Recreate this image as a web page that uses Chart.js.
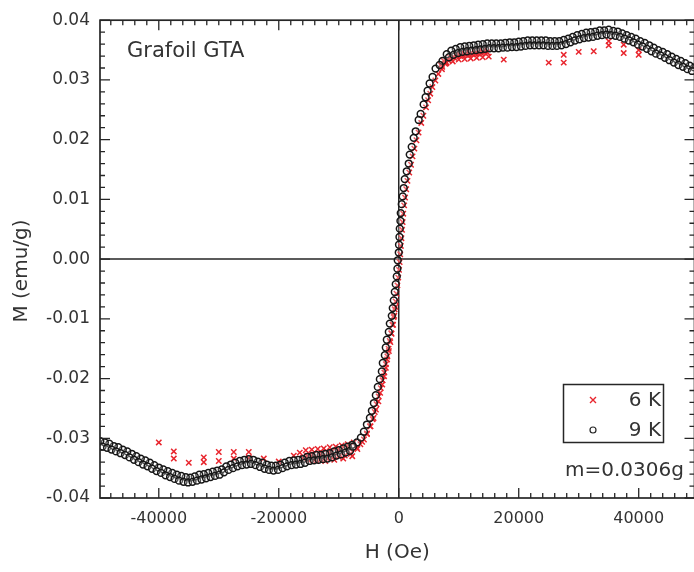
<!DOCTYPE html>
<html>
<head>
<meta charset="utf-8">
<script src="https://cdn.jsdelivr.net/npm/chart.js@4.4.1/dist/chart.umd.min.js"></script>
<style>
html,body{margin:0;padding:0;background:#fff;overflow:hidden;}
#wrap{width:700px;height:572px;}
</style>
</head>
<body>
<div id="wrap"><canvas id="c" width="700" height="572"></canvas></div>
<script>
// ---- texts ----
const xTitle = 'H (Oe)';
const yTitle = 'M (emu/g)';
const sampleLabel = 'Grafoil GTA';
const massLabel = 'm=0.0306g';
const seriesNames = ['6 K', '9 K'];

// ---- tick labels ----
const xTickValues = [-40000, -20000, 0, 20000, 40000];
const yTickValues = [-0.04, -0.03, -0.02, -0.01, 0, 0.01, 0.02, 0.03, 0.04];

// ---- 9 K, field sweep down (H in Oe, M in emu/g) ----
const h9Down = [49250,48500,47750,47000,46250,45500,44750,44000,43250,42500,41750,41000,40250,39500,38750,38000,37250,36500,35750,35000,34250,33500,32750,32000,31250,30500,29750,29000,28250,27500,26750,26000,25250,24500,23750,23000,22250,21500,20750,20000,19250,18500,17750,17000,16250,15500,14750,14000,13250,12500,11750,11000,10250,9500,8750,8000,7300,
6140,5150,4480,3650,2820,2160,1660,1000,660,330,170,40,-170,-330,-660,-1000,-1490,-1990,-2320,-2820,-3490,-4150,-4810,-5810,-6970,
-7750,-8500,-9250,-10000,-10750,-11500,-12250,-13000,-13750,-14500,-15250,-16000,-16750,-17500,-18250,-19000,-19750,-20500,-21250,-22000,-22750,-23500,-24250,-25000,-25750,-26500,-27250,-28000,-28750,-29500,-30250,-31000,-31750,-32500,-33250,-34000,-34750,-35500,-36250,-37000,-37750,-38500,-39250,-40000,-40750,-41500,-42250,-43000,-43750,-44500,-45250,-46000,-46750,-47500,-48250,-49000,-49750];
const m9Down = [0.0321,0.0324,0.0328,0.0332,0.0335,0.0339,0.0343,0.0347,0.0350,0.0354,0.0358,0.0362,0.0365,0.0369,0.0372,0.0375,0.0378,0.0381,0.0382,0.0384,0.0383,0.0383,0.0381,0.0380,0.0379,0.0377,0.0375,0.0372,0.0369,0.0367,0.0365,0.0365,0.0365,0.0366,0.0366,0.0366,0.0366,0.0366,0.0365,0.0364,0.0363,0.0363,0.0362,0.0361,0.0361,0.0361,0.0361,0.0360,0.0359,0.0358,0.0357,0.0356,0.0355,0.0352,0.0349,0.0343,0.0332,
0.0319,0.0294,0.0271,0.0243,0.0214,0.0188,0.0160,0.0134,0.0105,0.0077,0.0051,0.0024,-0.0002,-0.0029,-0.0055,-0.0082,-0.0108,-0.0135,-0.0161,-0.0188,-0.0214,-0.0241,-0.0266,-0.0289,-0.0307,
-0.0311,-0.0314,-0.0317,-0.0320,-0.0322,-0.0325,-0.0326,-0.0328,-0.0328,-0.0330,-0.0331,-0.0335,-0.0336,-0.0337,-0.0338,-0.0341,-0.0344,-0.0346,-0.0346,-0.0344,-0.0341,-0.0339,-0.0336,-0.0335,-0.0336,-0.0338,-0.0341,-0.0344,-0.0347,-0.0352,-0.0354,-0.0356,-0.0358,-0.0360,-0.0361,-0.0364,-0.0366,-0.0365,-0.0363,-0.0361,-0.0358,-0.0355,-0.0352,-0.0349,-0.0345,-0.0341,-0.0337,-0.0334,-0.0330,-0.0326,-0.0322,-0.0319,-0.0315,-0.0313,-0.0309,-0.0307,-0.0305];

// ---- 9 K, field sweep up ----
const h9Up = [-49375,-48625,-47875,-47125,-46375,-45625,-44875,-44125,-43375,-42625,-41875,-41125,-40375,-39625,-38875,-38125,-37375,-36625,-35875,-35125,-34375,-33625,-32875,-32125,-31375,-30625,-29875,-29125,-28375,-27625,-26875,-26125,-25375,-24625,-23875,-23125,-22375,-21625,-20875,-20125,-19375,-18625,-17875,-17125,-16375,-15625,-14875,-14125,-13375,-12625,-11875,-11125,-10375,-9625,-8875,-8125,
-7640,-6310,-5310,-4480,-3820,-3150,-2660,-2160,-1660,-1160,-830,-500,-220,0,120,280,500,830,1330,1830,2490,3320,4150,4810,5640,6810,
8375,9125,9875,10625,11375,12125,12875,13625,14375,15125,15875,16625,17375,18125,18875,19625,20375,21125,21875,22625,23375,24125,24875,25625,26375,27125,27875,28625,29375,30125,30875,31625,32375,33125,33875,34625,35375,36125,36875,37625,38375,39125,39875,40625,41375,42125,42875,43625,44375,45125,45875,46625,47375,48125,48875];
const m9Up = [-0.0314,-0.0316,-0.0319,-0.0322,-0.0325,-0.0328,-0.0332,-0.0336,-0.0340,-0.0344,-0.0347,-0.0351,-0.0355,-0.0358,-0.0362,-0.0365,-0.0368,-0.0371,-0.0373,-0.0374,-0.0373,-0.0371,-0.0369,-0.0367,-0.0365,-0.0363,-0.0361,-0.0357,-0.0353,-0.0350,-0.0347,-0.0345,-0.0344,-0.0343,-0.0345,-0.0348,-0.0351,-0.0353,-0.0354,-0.0353,-0.0350,-0.0347,-0.0345,-0.0344,-0.0343,-0.0341,-0.0338,-0.0337,-0.0336,-0.0335,-0.0334,-0.0332,-0.0329,-0.0327,-0.0324,-0.0321,
-0.0314,-0.0299,-0.0277,-0.0254,-0.0228,-0.0201,-0.0174,-0.0148,-0.0122,-0.0095,-0.0069,-0.0042,-0.0016,0.0011,0.0037,0.0064,0.0092,0.0119,0.0147,0.0175,0.0203,0.0233,0.0259,0.0282,0.0305,0.0325,
0.0338,0.0342,0.0345,0.0347,0.0348,0.0349,0.0350,0.0351,0.0352,0.0353,0.0353,0.0353,0.0354,0.0354,0.0355,0.0355,0.0356,0.0357,0.0358,0.0358,0.0358,0.0358,0.0357,0.0357,0.0357,0.0358,0.0360,0.0363,0.0366,0.0368,0.0370,0.0371,0.0372,0.0374,0.0375,0.0376,0.0375,0.0374,0.0372,0.0369,0.0366,0.0363,0.0359,0.0356,0.0352,0.0348,0.0344,0.0341,0.0337,0.0333,0.0329,0.0325,0.0322,0.0318,0.0315];

// ---- 6 K ----
const h6 = [-40000,-37500,-37500,-35000,-32500,-32500,-30000,-30000,-27500,-27500,-25000,-25000,-22500,-20000,-17500,
-16500,-16000,-15500,-15250,-15000,-14750,-14500,-14250,-14000,-13750,-13500,-13250,-13000,-12750,-12500,-12250,-12000,-11750,-11500,-11250,-11000,-10750,-10500,-10250,-10000,-9750,-9500,-9250,-9000,-8750,-8500,-8250,-8000,-7750,-7500,
-7000,-6400,-5800,-5300,-4800,-4350,-4000,-3700,-3350,-3000,-2700,-2400,-2150,-1900,-1700,-1500,-1250,-1050,-850,-680,-520,-380,-220,-80,50,150,250,350,450,550,650,750,900,1050,1250,1450,1750,2050,2300,2600,2950,3300,3750,4100,4550,4900,5250,5600,6100,6600,7200,7900,
-6900,-6100,-5300,-4700,-4200,-3800,-3400,-3100,-2750,-2450,-2150,-1950,-1650,-1400,-1200,-950,-750,-550,
7000,7250,7500,7750,8000,8250,8500,8750,9000,9250,9500,9750,10000,10250,10500,10750,11000,11250,11500,11750,12000,12250,12500,12750,13000,13250,13500,13750,14000,14250,14500,14750,15000,
17500,25000,27500,27500,30000,32500,35000,35000,37500,37500,40000,40000];
const m6 = [-0.0307,-0.0322,-0.0334,-0.0341,-0.0332,-0.0340,-0.0323,-0.0338,-0.0323,-0.0334,-0.0323,-0.0333,-0.0334,-0.0339,-0.0329,
-0.0324,-0.0333,-0.0320,-0.0329,-0.0337,-0.0328,-0.0319,-0.0327,-0.0336,-0.0338,-0.0318,-0.0326,-0.0335,-0.0325,-0.0317,-0.0338,-0.0334,-0.0324,-0.0315,-0.0323,-0.0333,-0.0336,-0.0314,-0.0322,-0.0331,-0.0320,-0.0312,-0.0334,-0.0329,-0.0319,-0.0310,-0.0317,-0.0326,-0.0330,-0.0307,
-0.0316,-0.0310,-0.0302,-0.0292,-0.0280,-0.0268,-0.0256,-0.0243,-0.0230,-0.0216,-0.0203,-0.0190,-0.0176,-0.0163,-0.0150,-0.0137,-0.0124,-0.0110,-0.0097,-0.0084,-0.0071,-0.0058,-0.0044,-0.0031,-0.0018,-0.0005,0.0008,0.0022,0.0035,0.0049,0.0062,0.0076,0.0090,0.0103,0.0117,0.0131,0.0145,0.0158,0.0172,0.0185,0.0199,0.0212,0.0228,0.0240,0.0254,0.0266,0.0277,0.0288,0.0299,0.0310,0.0318,0.0328,
-0.0318,-0.0306,-0.0293,-0.0280,-0.0266,-0.0252,-0.0238,-0.0224,-0.0210,-0.0196,-0.0182,-0.0168,-0.0154,-0.0139,-0.0125,-0.0110,-0.0095,-0.0080,
0.0325,0.0322,0.0332,0.0327,0.0329,0.0333,0.0338,0.0335,0.0331,0.0337,0.0343,0.0339,0.0334,0.0340,0.0346,0.0341,0.0335,0.0342,0.0348,0.0342,0.0336,0.0343,0.0350,0.0344,0.0337,0.0344,0.0351,0.0345,0.0338,0.0346,0.0352,0.0346,0.0339,
0.0334,0.0329,0.0342,0.0329,0.0347,0.0348,0.0365,0.0358,0.0359,0.0345,0.0350,0.0342];

const FONT = '"DejaVu Sans", "Liberation Sans", sans-serif';
const ink = '#262626';
const textColor = '#333333';
const red = '#e8252d';
const xMinorStep = 2000, xMajorStep = 20000;

function pts(h, m) { return h.map((v, i) => ({ x: v, y: m[i] })); }
const data9 = pts(h9Down, m9Down).concat(pts(h9Up, m9Up));
const data6 = pts(h6, m6);

const decor = {
  id: 'decor',
  beforeDatasetsDraw(chart) {
    const { ctx, chartArea: a, scales: { x, y } } = chart;
    ctx.save();
    ctx.strokeStyle = ink;
    ctx.lineWidth = 1.5;
    const px = x.getPixelForValue(0), py = y.getPixelForValue(0);
    ctx.beginPath();
    ctx.moveTo(px, a.top); ctx.lineTo(px, a.bottom);
    ctx.moveTo(a.left, py); ctx.lineTo(a.right, py);
    ctx.stroke();
    ctx.restore();
  },
  afterDatasetsDraw(chart) {
    const { ctx, chartArea: a, scales: { x, y } } = chart;
    ctx.save();
    ctx.strokeStyle = ink;
    ctx.lineWidth = 1.7;
    ctx.strokeRect(a.left, a.top, a.right - a.left, a.bottom - a.top);
    ctx.lineWidth = 1.3;
    ctx.beginPath();
    for (let v = Math.ceil(x.min / xMinorStep) * xMinorStep; v <= x.max; v += xMinorStep) {
      const p = x.getPixelForValue(v);
      const len = (v % xMajorStep === 0) ? 10 : 5;
      ctx.moveTo(p, a.bottom); ctx.lineTo(p, a.bottom - len);
      ctx.moveTo(p, a.top); ctx.lineTo(p, a.top + len);
    }
    for (let i = -20; i <= 20; i++) {
      const p = y.getPixelForValue(i * 0.002);
      const len = (i % 5 === 0) ? 10 : 5;
      ctx.moveTo(a.left, p); ctx.lineTo(a.left + len, p);
      ctx.moveTo(a.right, p); ctx.lineTo(a.right - len, p);
    }
    ctx.stroke();

    ctx.fillStyle = textColor;
    ctx.font = '21px ' + FONT;
    ctx.textAlign = 'left';
    ctx.textBaseline = 'alphabetic';
    ctx.fillText(sampleLabel, 127, 57);

    // legend
    ctx.lineWidth = 1.5;
    ctx.strokeStyle = ink;
    ctx.strokeRect(563.5, 384.5, 100, 58);
    ctx.strokeStyle = red;
    ctx.lineWidth = 1.4;
    ctx.beginPath();
    ctx.moveTo(590, 397); ctx.lineTo(596, 403);
    ctx.moveTo(596, 397); ctx.lineTo(590, 403);
    ctx.stroke();
    ctx.strokeStyle = ink;
    ctx.lineWidth = 1.2;
    ctx.beginPath();
    ctx.arc(593, 430, 3, 0, Math.PI * 2);
    ctx.stroke();
    ctx.fillStyle = textColor;
    ctx.font = '20px ' + FONT;
    ctx.textAlign = 'right';
    ctx.textBaseline = 'middle';
    ctx.fillText(seriesNames[0], 661, 401);
    ctx.fillText(seriesNames[1], 661, 431);
    ctx.textAlign = 'left';
    ctx.fillText(massLabel, 565, 471);

    // y axis title
    ctx.save();
    ctx.translate(22, 271);
    ctx.rotate(-Math.PI / 2);
    ctx.textAlign = 'center';
    ctx.textBaseline = 'middle';
    ctx.font = '20px ' + FONT;
    ctx.fillText(yTitle, 0, 0);
    ctx.restore();

    ctx.restore();
  }
};

new Chart(document.getElementById('c'), {
  type: 'scatter',
  data: {
    datasets: [
      {
        label: seriesNames[1],
        data: data9,
        pointStyle: 'circle',
        pointRadius: 3.4,
        borderWidth: 1.5,
        borderColor: '#161616',
        backgroundColor: 'rgba(255,255,255,0.25)'
      },
      {
        label: seriesNames[0],
        data: data6,
        pointStyle: 'crossRot',
        pointRadius: 3.8,
        borderWidth: 1.5,
        borderColor: red,
        backgroundColor: red
      }
    ]
  },
  options: {
    responsive: false,
    animation: false,
    devicePixelRatio: 1,
    events: [],
    layout: { padding: { top: 15, right: 3, bottom: 0, left: 0 } },
    plugins: { legend: { display: false }, tooltip: { enabled: false } },
    scales: {
      x: {
        type: 'linear',
        min: -49800,
        max: 49300,
        afterBuildTicks: s => { s.ticks = xTickValues.map(v => ({ value: v })); },
        afterFit: s => { s.height = 74; },
        grid: { display: false, drawTicks: false },
        border: { display: false },
        ticks: { font: { family: FONT, size: 16 }, color: textColor, padding: 11, maxRotation: 0, autoSkip: false, callback: v => String(v) },
        title: { display: true, text: xTitle, font: { family: FONT, size: 20 }, color: textColor, padding: { top: 0, bottom: 7 } }
      },
      y: {
        type: 'linear',
        min: -0.04,
        max: 0.04,
        afterBuildTicks: s => { s.ticks = yTickValues.map(v => ({ value: v })); },
        afterFit: s => { s.width = 100; },
        grid: { display: false, drawTicks: false },
        border: { display: false },
        ticks: { font: { family: FONT, size: 17 }, color: textColor, padding: 10, autoSkip: false, callback: v => Number(v).toFixed(2) }
      }
    }
  },
  plugins: [decor]
});
</script>
</body>
</html>
